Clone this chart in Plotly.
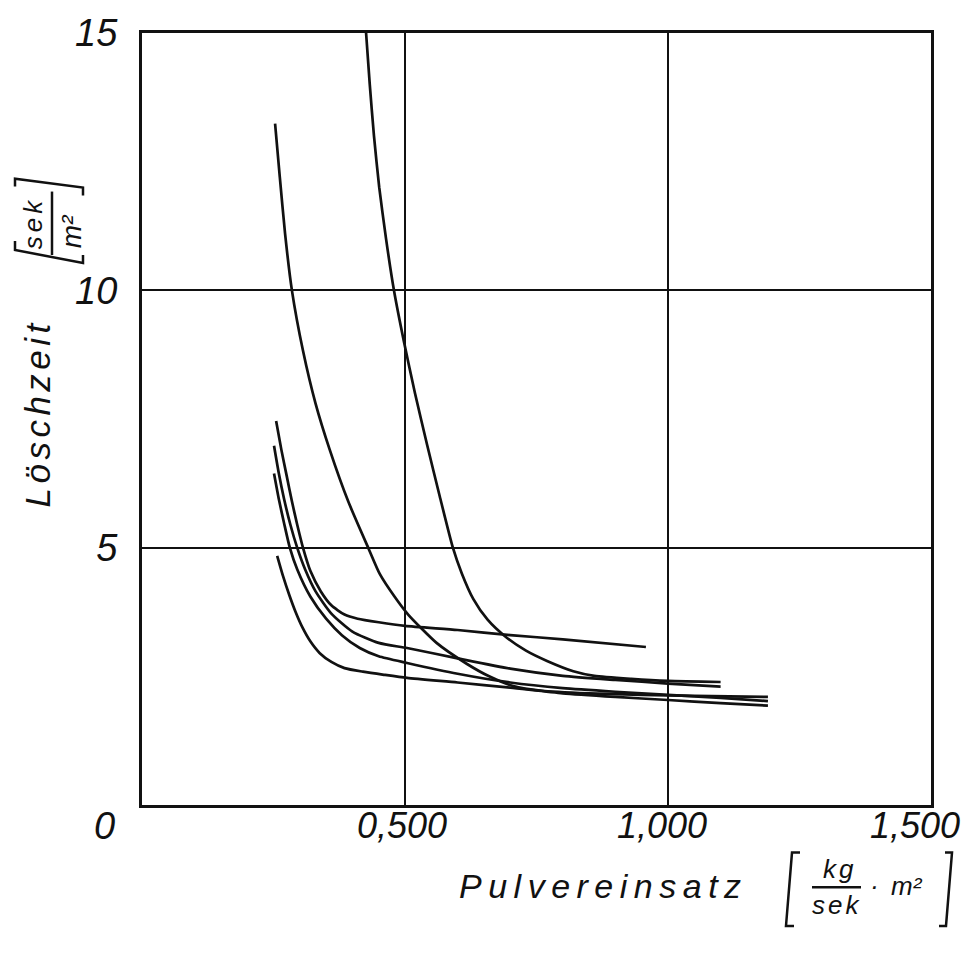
import plotly.graph_objects as go

# Extinguishing time vs. powder rate, six test series
a_x = [0.426, 0.433, 0.441, 0.451, 0.464, 0.479, 0.498, 0.519, 0.542, 0.566, 0.591, 0.608, 0.630, 0.657, 0.690, 0.730, 0.770, 0.820, 0.860, 0.930, 1.000, 1.100]
a_y = [15.0, 14.0, 13.0, 12.0, 11.0, 10.0, 9.0, 8.0, 7.0, 6.0, 5.0, 4.50, 4.0, 3.6, 3.28, 3.0, 2.8, 2.6, 2.51, 2.45, 2.41, 2.39]

b_x = [0.253, 0.262, 0.272, 0.285, 0.306, 0.330, 0.357, 0.392, 0.430, 0.452, 0.480, 0.506, 0.560, 0.618, 0.660, 0.706, 0.760, 0.850, 0.950, 1.050, 1.190]
b_y = [13.24, 12.2, 11.1, 10.0, 8.83, 7.80, 6.90, 5.90, 5.00, 4.49, 4.05, 3.70, 3.15, 2.74, 2.50, 2.31, 2.22, 2.17, 2.14, 2.12, 2.10]

c_x = [0.255, 0.265, 0.275, 0.285, 0.295, 0.306, 0.320, 0.340, 0.360, 0.385, 0.410, 0.450, 0.500, 0.600, 0.700, 0.800, 0.958]
c_y = [7.46, 6.90, 6.40, 5.90, 5.45, 5.00, 4.55, 4.15, 3.88, 3.70, 3.62, 3.55, 3.48, 3.40, 3.30, 3.22, 3.07]

d_x = [0.251, 0.260, 0.270, 0.282, 0.295, 0.310, 0.330, 0.360, 0.400, 0.450, 0.504, 0.600, 0.700, 0.800, 0.900, 1.000, 1.100]
d_y = [6.98, 6.45, 5.95, 5.45, 5.00, 4.58, 4.15, 3.72, 3.37, 3.15, 3.05, 2.85, 2.65, 2.51, 2.43, 2.36, 2.30]

e_x = [0.251, 0.260, 0.270, 0.281, 0.295, 0.320, 0.350, 0.380, 0.414, 0.450, 0.504, 0.600, 0.700, 0.800, 0.900, 1.000, 1.100, 1.190]
e_y = [6.44, 5.95, 5.48, 5.00, 4.58, 4.05, 3.62, 3.30, 3.05, 2.89, 2.76, 2.55, 2.38, 2.27, 2.20, 2.14, 2.08, 2.02]

f_x = [0.257, 0.268, 0.280, 0.292, 0.305, 0.320, 0.338, 0.360, 0.385, 0.420, 0.460, 0.504, 0.600, 0.700, 0.800, 0.900, 1.000, 1.100, 1.190]
f_y = [4.84, 4.45, 4.08, 3.75, 3.45, 3.18, 2.95, 2.78, 2.66, 2.59, 2.53, 2.47, 2.38, 2.28, 2.17, 2.10, 2.04, 1.98, 1.93]

series = [(a_x, a_y), (b_x, b_y), (c_x, c_y), (d_x, d_y), (e_x, e_y), (f_x, f_y)]

x_ticks = [0.5, 1.0, 1.5]
x_tick_text = ["0,500", "1,000", "1,500"]
x_tick_shift = [-3, -6, -16]
y_ticks = [5, 10, 15]
y_tick_text = ["5", "10", "15"]

W, H = 971, 966
L, R, T, B = 142, 931, 26, 805  # plot area in pixels

FONT = "Liberation Sans"
INK = "#111111"


def px(x):
    return (x - L) / (R - L)


def py(y):
    return (B - y) / (B - T)


fig = go.Figure()
for xs, ys in series:
    fig.add_trace(go.Scatter(
        x=xs, y=ys, mode="lines",
        line=dict(color=INK, width=2.7, shape="spline", smoothing=0.6),
        showlegend=False, hoverinfo="skip",
    ))

axis_common = dict(
    showline=True, linecolor=INK, linewidth=3, mirror=True,
    showgrid=True, gridcolor=INK, gridwidth=2,
    zeroline=False, ticks="",
)

fig.update_layout(
    width=W, height=H,
    margin=dict(l=L, r=W - R, t=T, b=H - B),
    paper_bgcolor="white", plot_bgcolor="white",
    xaxis=dict(range=[0, 1.5], tickvals=x_ticks, showticklabels=False, **axis_common),
    yaxis=dict(range=[0, 15], tickvals=y_ticks, ticktext=y_tick_text,
               ticklabelstandoff=14,
               tickfont=dict(family=FONT, size=38, color=INK, style="italic"),
               **axis_common),
)

ann_font = dict(family=FONT, color=INK, style="italic")

annotations = []
# x tick labels, placed on the data axis
for v, t, s in zip(x_ticks, x_tick_text, x_tick_shift):
    annotations.append(dict(x=v, y=py(826), xref="x", yref="paper", xshift=s,
                            text=t, font=dict(size=36, **ann_font)))

annotations += [
    # shared origin label
    dict(x=px(104), y=py(826), text="0", font=dict(size=38, **ann_font)),
    # axis titles
    dict(x=px(603), y=py(887),
         text='<span style="letter-spacing:6.5px">Pulvereinsatz</span>',
         font=dict(size=34, **ann_font)),
    dict(x=px(38), y=py(410), textangle=-90,
         text='<span style="letter-spacing:4.5px">Löschzeit</span>',
         font=dict(size=35, **ann_font)),
    # x unit: kg / sek · m²
    dict(x=px(839), y=py(870), text='<span style="letter-spacing:3px">kg</span>',
         font=dict(size=26, **ann_font)),
    dict(x=px(836), y=py(906), text='<span style="letter-spacing:3px">sek</span>',
         font=dict(size=26, **ann_font)),
    dict(x=px(874), y=py(887), text="·", font=dict(size=26, **ann_font)),
    dict(x=px(907), y=py(887), text="m²", font=dict(size=26, **ann_font)),
    # y unit: sek / m²
    dict(x=px(33), y=py(218), textangle=-90,
         text='<span style="letter-spacing:4px">sek</span>', font=dict(size=26, **ann_font)),
    dict(x=px(71), y=py(226), textangle=-90, text="m²", font=dict(size=28, **ann_font)),
]
for a in annotations:
    a.setdefault("xref", "paper")
    a.setdefault("yref", "paper")
    a.update(xanchor="center", yanchor="middle", showarrow=False)
fig.update_layout(annotations=annotations)


def path(points):
    return "M " + " L ".join(f"{px(x):.5f},{py(y):.5f}" for x, y in points)


bracket_line = dict(color=INK, width=2.5)
shapes = [
    # x unit brackets and fraction bar
    dict(type="path", path=path([(800, 853), (792, 853), (786, 927), (794, 927)])),
    dict(type="path", path=path([(945, 853), (952, 853), (946, 927), (939, 927)])),
    dict(type="line", x0=px(812), x1=px(861), y0=py(888), y1=py(888)),
    # y unit brackets and fraction bar
    dict(type="path", path=path([(15, 181), (15, 173), (83, 182), (83, 190)])),
    dict(type="path", path=path([(15, 236), (15, 245), (83, 258), (83, 250)])),
    dict(type="line", x0=px(52), x1=px(52), y0=py(186), y1=py(250)),
]
for s in shapes:
    s.update(xref="paper", yref="paper", line=bracket_line)
fig.update_layout(shapes=shapes)

fig.write_html("out.html")
